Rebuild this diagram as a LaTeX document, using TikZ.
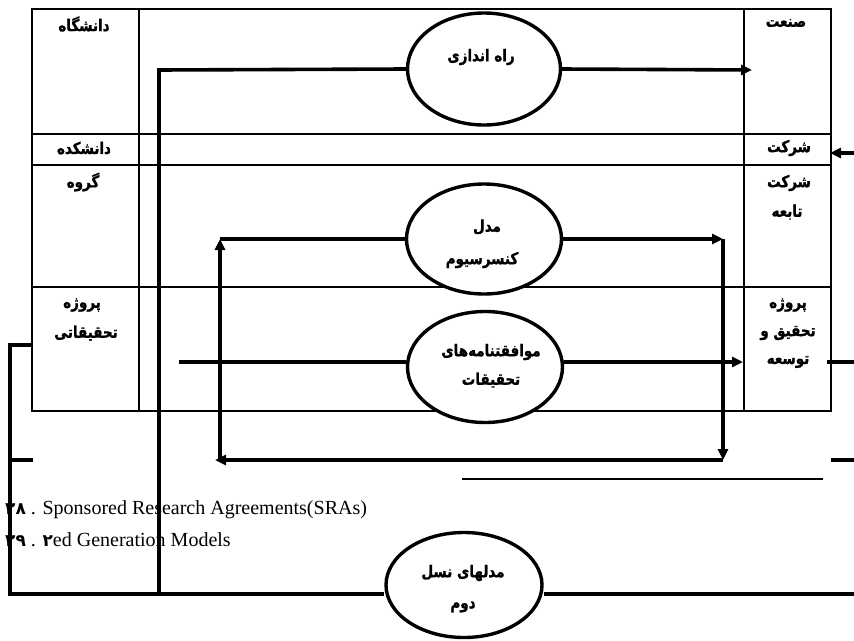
\documentclass[tikz,border=0pt]{standalone}
\usepackage{fontspec}
\usepackage{graphicx}
\setmainfont{Liberation Serif}
\newfontfamily\fa[Script=Arabic,FakeBold=1.3]{DejaVu Sans Bold}
\newfontfamily\fadig[Script=Arabic]{DejaVu Sans Bold}
\TeXXeTstate=1
\usetikzlibrary{shapes.geometric,arrows.meta}
\newcommand\fatxt[1]{\scalebox{1}[1.2]{\beginR #1\endR}}
\begin{document}
\begin{tikzpicture}[x=1pt,y=-1pt,
  tbl/.style={line width=1.6pt},
  thk/.style={line width=3.6pt},
  arr/.style={thk,-{Triangle[length=11pt,width=10pt]}},
  thin/.style={line width=1.4pt},
  ell/.style={ellipse,draw,line width=3.4pt,fill=white,inner sep=0pt},
  persian/.style={font=\fa\fontsize{13.5}{15}\selectfont,inner sep=0pt},
  foot/.style={anchor=base west,inner sep=0pt,font=\fontsize{20}{24}\selectfont}]
\useasboundingbox (0,0) rectangle (854,640);
% table
\draw[tbl] (32,9) rectangle (831,411);
\foreach \y in {134,165,287} \draw[tbl] (32,\y) -- (831,\y);
\foreach \x in {139,744} \draw[tbl] (\x,9) -- (\x,411);
% column labels
\node[persian] (l1) at (84,24) {\fatxt{دانشگاه}};
\node[persian] (l2) at (84,148) {\fatxt{دانشکده}};
\node[persian] (l3) at (83,182) {\fatxt{گروه}};
\node[persian] (l4) at (82,305) {\fatxt{پروژه}};
\node[persian] (l5) at (86,333) {\fatxt{تحقیقاتی}};
\node[persian] (r1) at (786,23) {\fatxt{صنعت}};
\node[persian] (r2) at (789,148) {\fatxt{شرکت}};
\node[persian] (r3) at (789,183) {\fatxt{شرکت}};
\node[persian] (r4) at (787,212) {\fatxt{تابعه}};
\node[persian] (r5) at (788,305) {\fatxt{پروژه}};
\node[persian] (r6) at (788,333) {\fatxt{تحقیق و}};
\node[persian] (r7) at (788,362) {\fatxt{توسعه}};
% ellipses
\node[ell,minimum width=153pt,minimum height=112pt] (e1) at (484,69) {};
\node[ell,minimum width=155pt,minimum height=110pt] (e2) at (484,239) {};
\node[ell,minimum width=155pt,minimum height=111pt] (e3) at (485,367) {};
\node[ell,minimum width=156pt,minimum height=105pt] (e4) at (464,585) {};
\node[persian] (t1) at (481,57) {\fatxt{راه اندازی}};
\node[persian] (t2a) at (487,227) {\fatxt{مدل}};
\node[persian] (t2b) at (482,260) {\fatxt{کنسرسیوم}};
\node[persian] (t3a) at (491,352) {\fatxt{موافقتنامه‌های}};
\node[persian] (t3b) at (491,380) {\fatxt{تحقیقات}};
\node[persian] (t4a) at (463,573) {\fatxt{مدلهای نسل}};
\node[persian] (t4b) at (463,607) {\fatxt{دوم}};
% coordinates
\coordinate (pA) at (159,70);
\coordinate (pB) at (159,594);
\coordinate (qA) at (10,345);
\coordinate (qB) at (10,594);
\coordinate (qC) at (32,345);
\coordinate (qE) at (10,460);
\coordinate (qD) at (33,460);
\coordinate (rB) at (854,594);
\coordinate (a1) at (752,70);
\coordinate (c1) at (723,239);
\coordinate (c2) at (723,460);
\coordinate (c3) at (215,460);
\coordinate (c4) at (220,239);
\coordinate (c3b) at (220,460);
\coordinate (s3) at (179,362);
\coordinate (a3) at (743,362);
\coordinate (w1) at (854,153);
\coordinate (w1t) at (830,153);
\coordinate (w2) at (827,362);
\coordinate (w2e) at (854,362);
\coordinate (w3) at (831,460);
\coordinate (w3e) at (854,460);
\coordinate (h1) at (462,479);
\coordinate (h2) at (823,479);
% connectors
\draw[thk] (e1.west) -- (pA) -- (pB);
\draw[arr] (e1.east) -- (a1);
\draw[thk] (qC) -- (qA) -- (qB) -- (e4.west |- qB);
\draw[thk] (qE) -- (qD);
\draw[thk] (e4.east |- qB) -- (rB);
\draw[arr] (e2.east) -- (c1);
\draw[arr] (c1) -- (c2);
\draw[arr] (c2) -- (c3);
\draw[arr] (c3b) -- (c4);
\draw[thk] (c4) -- (e2.west);
\draw[thk] (s3) -- (e3.west |- s3);
\draw[arr] (e3.east |- s3) -- (a3);
\draw[arr] (w1) -- (w1t);
\draw[thk] (w2) -- (w2e);
\draw[thk] (w3) -- (w3e);
\draw[thin] (h1) -- (h2);
% footnotes
\node[foot] (f1) at (5,514) {{\fadig\fontsize{17}{20}\selectfont ۲۸} . Sponsored Research Agreements(SRAs)};
\node[foot] (f2) at (5,546) {{\fadig\fontsize{17}{20}\selectfont ۲۹} . {\fadig\fontsize{17}{20}\selectfont ۲}ed Generation Models};
\end{tikzpicture}
\end{document}
